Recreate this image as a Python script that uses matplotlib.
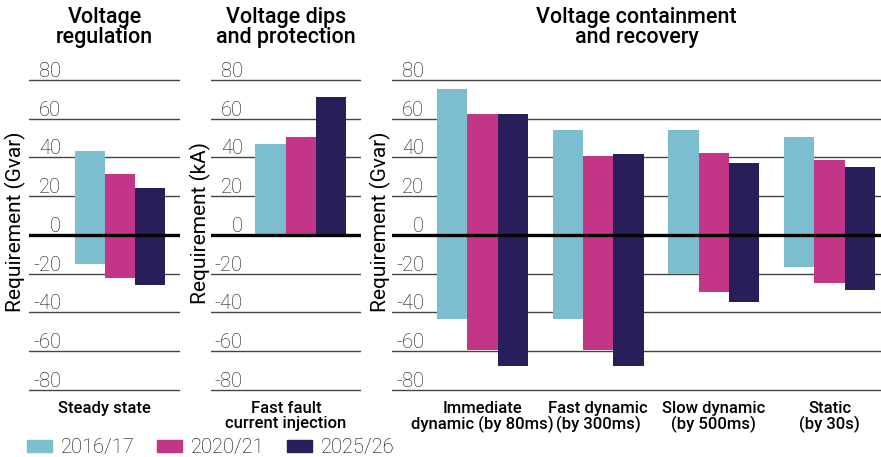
import matplotlib
matplotlib.use('Agg')
import matplotlib.pyplot as plt
from matplotlib import transforms as mtransforms
from matplotlib.patches import Patch

# ---------------- data ----------------
years = ['2016/17', '2020/21', '2025/26']
colors = ['#7dbdd0', '#c33586', '#2a1e5a']

reg_cat = ['Steady state']
reg_pos = [[43.3], [31.4], [24.2]]
reg_neg = [[-14.8], [-22.0], [-25.8]]

dip_cat = ['Fast fault\ncurrent injection']
dip_pos = [[46.9], [50.7], [71.1]]

cont_cat = ['Immediate\ndynamic (by 80ms)', 'Fast dynamic\n(by 300ms)',
            'Slow dynamic\n(by 500ms)', 'Static\n(by 30s)']
cont_pos = [[75.3, 54.1, 54.1, 50.5],
            [62.4, 40.7, 42.3, 38.7],
            [62.4, 41.8, 37.1, 35.1]]
cont_neg = [[-43.6, -43.6, -19.9, -16.3],
            [-59.1, -59.1, -29.4, -24.6],
            [-67.5, -67.5, -34.5, -28.4]]

titles = ['Voltage\nregulation', 'Voltage dips\nand protection',
          'Voltage containment\nand recovery']
ylabels = ['Requirement (Gvar)', 'Requirement (kA)', 'Requirement (Gvar)']
yticks = [-80, -60, -40, -20, 0, 20, 40, 60, 80]

# ---------------- layout ----------------
W, H = 881, 457
fig = plt.figure(figsize=(W / 100, H / 100), dpi=100)
plt.rcParams['font.family'] = ['Roboto', 'DejaVu Sans']

ylo, yhi = -82, 82
py0, py80 = 235.0, 80.0
scale = (py0 - py80) / 80.0
top_px = py0 - yhi * scale
bot_px = py0 - ylo * scale

def make_ax(left_px, right_px):
    return fig.add_axes([left_px / W, 1 - bot_px / H,
                         (right_px - left_px) / W, (bot_px - top_px) / H])

ax1 = make_ax(29, 180)
ax2 = make_ax(210.7, 361)
ax3 = make_ax(392, 881)

bw = 0.262
offsets = [-bw, 0, bw]

def style(ax, xlim):
    ax.set_xlim(*xlim)
    ax.set_ylim(ylo, yhi)
    for s in ax.spines.values():
        s.set_visible(False)
    ax.set_yticks([])
    for t in yticks:
        if t == 0:
            ax.axhline(0, color='black', lw=2.4, zorder=5)
        else:
            ax.axhline(t, color='#444444', lw=1.0, zorder=0)
        tr = mtransforms.offset_copy(ax.get_yaxis_transform(), fig=fig,
                                     x=32, y=3, units='dots')
        ax.text(0, t, str(t), transform=tr, ha='right', va='baseline',
                fontsize=14.5, fontweight='light', color='#111111')
    ax.tick_params(axis='x', length=0, pad=5)

def draw(ax, ncat, pos, neg):
    xs = list(range(ncat))
    for i in range(3):
        ax.bar([x + offsets[i] for x in xs], pos[i], width=bw,
               color=colors[i], zorder=2, label=years[i])
        if neg is not None:
            ax.bar([x + offsets[i] for x in xs], neg[i], width=bw,
                   color=colors[i], zorder=2)

draw(ax1, 1, reg_pos, reg_neg)
draw(ax2, 1, dip_pos, None)
draw(ax3, 4, cont_pos, cont_neg)

style(ax1, (-0.787, 0.519))
style(ax2, (-0.780, 0.519))
style(ax3, (-0.782, 3.444))

lab_kw = dict(fontsize=12, fontweight='medium', linespacing=1.0)
for ax, cats in [(ax1, reg_cat), (ax2, dip_cat)]:
    xl = ax.get_xlim()
    ax.set_xticks([(xl[0] + xl[1]) / 2])
    ax.set_xticklabels(cats, **lab_kw)
ax3.set_xticks(range(len(cont_cat)))
ax3.set_xticklabels(cont_cat, **lab_kw)

# titles
for ax, t in zip([ax1, ax2, ax3], titles):
    bb = ax.get_position()
    fig.text(bb.x0 + bb.width / 2, 1 - 7 / H, t, ha='center', va='top',
             fontsize=15.5, fontweight='medium', linespacing=0.95)

# y labels
for xpx, ypx, lab in [(15, 221.5, ylabels[0]), (200, 223, ylabels[1]),
                      (380, 221.5, ylabels[2])]:
    fig.text(xpx / W, 1 - ypx / H, lab, rotation=90, ha='center',
             va='center', fontsize=15)

# legend
handles = [Patch(color=c) for c in colors]
fig.legend(handles, years, loc='lower left', bbox_to_anchor=(27 / W, 0.0),
           ncol=3, frameon=False, handlelength=1.24,
           handleheight=0.55, handletextpad=0.45, columnspacing=1.1,
           borderpad=0, borderaxespad=0,
           prop={'weight': 'light', 'size': 14.5})

fig.savefig('out.png', dpi=100)
